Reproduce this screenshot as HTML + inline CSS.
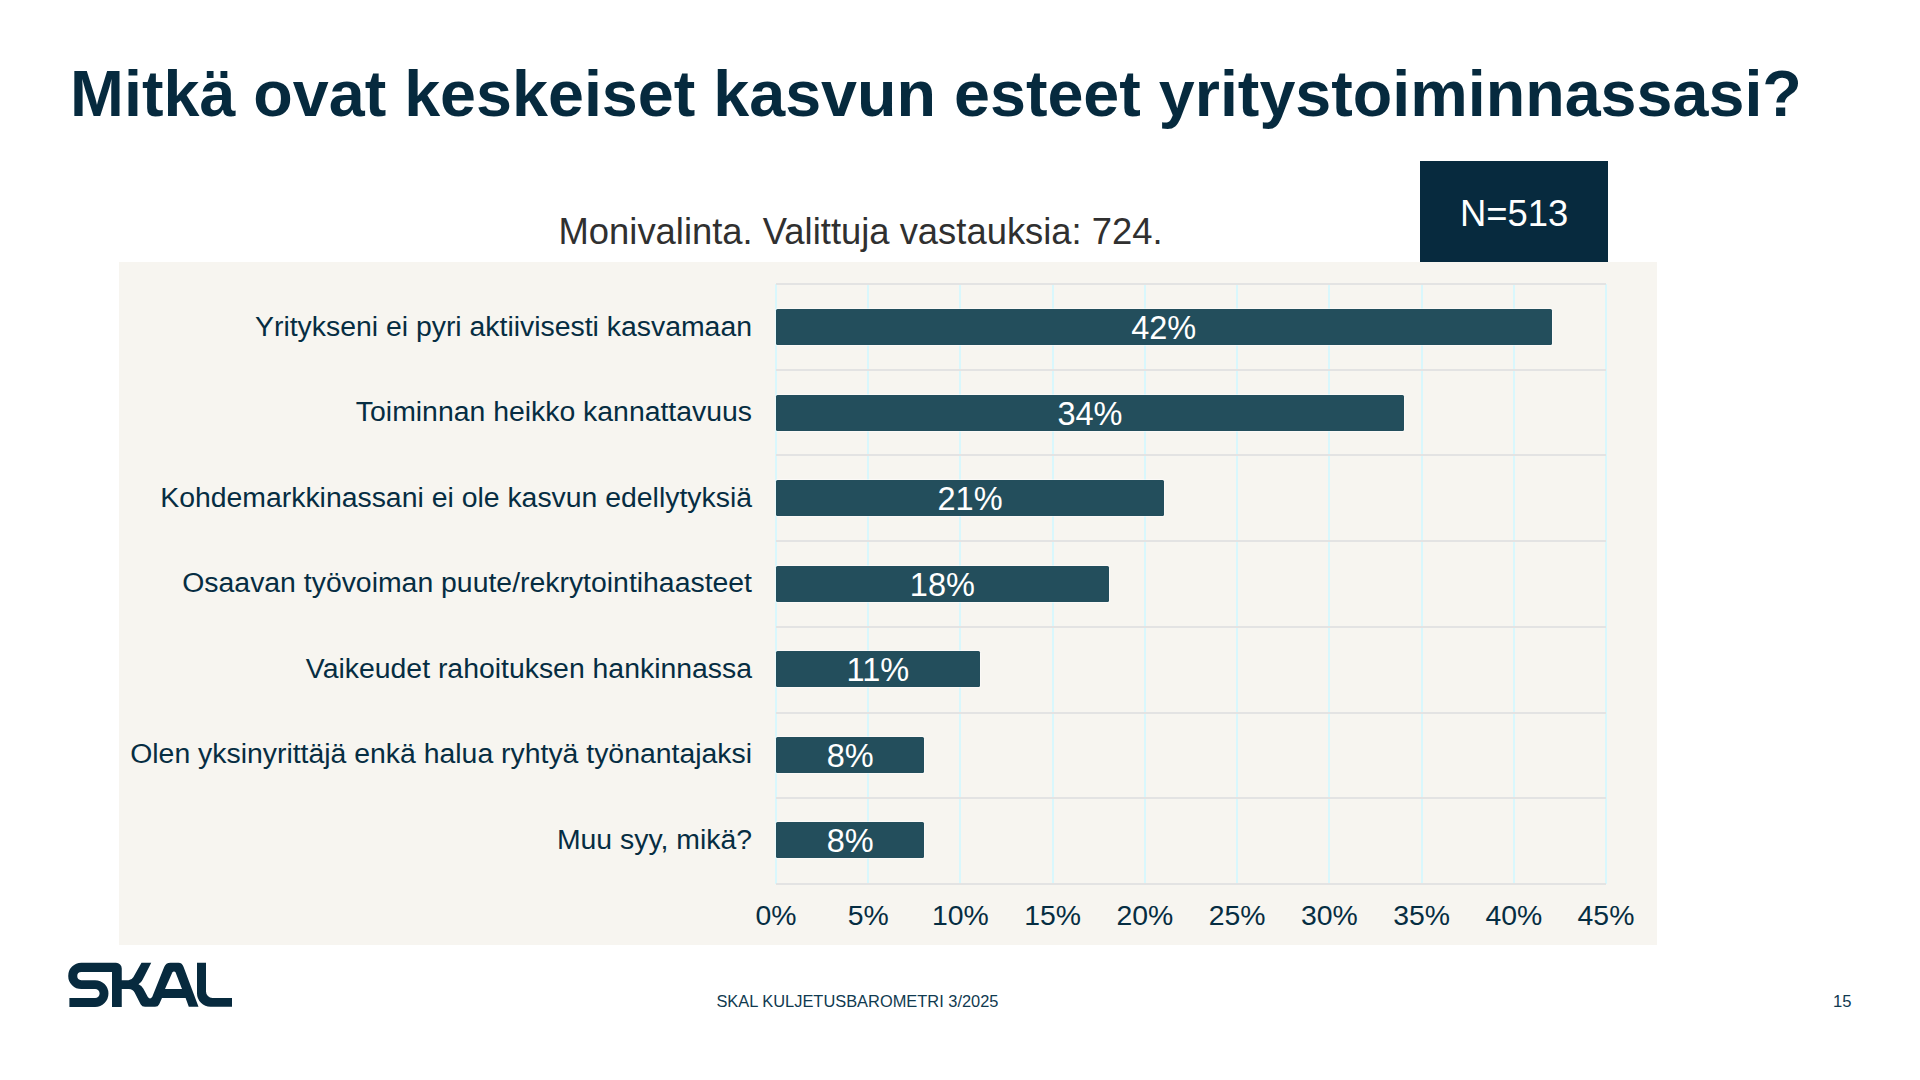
<!DOCTYPE html>
<html>
<head>
<meta charset="utf-8">
<style>
html,body{margin:0;padding:0;}
body{width:1920px;height:1080px;position:relative;overflow:hidden;background:#ffffff;font-family:"Liberation Sans",sans-serif;}
.t{position:absolute;white-space:nowrap;line-height:1;}
#title{left:70.1px;top:62.2px;font-size:64.65px;font-weight:700;color:#062a3e;}
#sub{left:558.5px;top:214.4px;font-size:36.4px;color:#303030;}
#nbox{position:absolute;left:1420px;top:161px;width:188px;height:101px;background:#072a3e;}
#ntxt{left:1420px;width:188px;text-align:center;top:195.6px;font-size:36.4px;color:#ffffff;}
#chart{position:absolute;left:119.2px;top:262px;width:1537.6px;height:683.2px;background:#f7f5f0;}
.vg{position:absolute;top:284px;height:600px;width:2px;background:#d9f7fc;}
.hg{position:absolute;left:776px;width:830px;height:2px;background:#e3e3e3;}
.bar{position:absolute;left:776px;height:36.3px;background:#234e5c;border-radius:1.5px;box-shadow:0 0 0 1px rgba(255,255,255,0.45);}
.dl{position:absolute;left:776px;height:36px;line-height:38.2px;text-align:center;color:#ffffff;font-size:32.5px;white-space:nowrap;}
.cl{position:absolute;right:1168px;font-size:28.4px;color:#062d42;text-align:right;}
.al{position:absolute;width:100px;text-align:center;font-size:28.4px;color:#062d42;top:901px;}
#foot{left:716.4px;top:993.2px;font-size:16.42px;color:#103a50;}
#pg{left:1833px;top:994.3px;font-size:16.6px;color:#103a50;}
</style>
</head>
<body>
<div class="t" id="title">Mitkä ovat keskeiset kasvun esteet yritystoiminnassasi?</div>
<div class="t" id="sub">Monivalinta. Valittuja vastauksia: 724.</div>
<div id="nbox"></div>
<div class="t" id="ntxt">N=513</div>
<div id="chart"></div>

<!-- vertical gridlines -->
<div class="vg" style="left:775px"></div>
<div class="vg" style="left:867.2px"></div>
<div class="vg" style="left:959.4px"></div>
<div class="vg" style="left:1051.7px"></div>
<div class="vg" style="left:1143.9px"></div>
<div class="vg" style="left:1236.1px"></div>
<div class="vg" style="left:1328.3px"></div>
<div class="vg" style="left:1420.6px"></div>
<div class="vg" style="left:1512.8px"></div>
<div class="vg" style="left:1605px"></div>

<!-- horizontal gridlines -->
<div class="hg" style="top:283.0px"></div>
<div class="hg" style="top:368.7px"></div>
<div class="hg" style="top:454.4px"></div>
<div class="hg" style="top:540.1px"></div>
<div class="hg" style="top:625.9px"></div>
<div class="hg" style="top:711.6px"></div>
<div class="hg" style="top:797.3px"></div>
<div class="hg" style="top:883.0px"></div>

<!-- bars -->
<div class="bar" style="top:309.2px;width:775.5px"></div>
<div class="bar" style="top:394.7px;width:627.9px"></div>
<div class="bar" style="top:480.2px;width:388.1px"></div>
<div class="bar" style="top:565.7px;width:332.8px"></div>
<div class="bar" style="top:651.2px;width:203.7px"></div>
<div class="bar" style="top:736.7px;width:148.4px"></div>
<div class="bar" style="top:822.2px;width:148.4px"></div>

<div class="dl" style="top:309.2px;width:775.5px">42%</div>
<div class="dl" style="top:394.7px;width:627.9px">34%</div>
<div class="dl" style="top:480.2px;width:388.1px">21%</div>
<div class="dl" style="top:565.7px;width:332.8px">18%</div>
<div class="dl" style="top:651.2px;width:203.7px">11%</div>
<div class="dl" style="top:736.7px;width:148.4px">8%</div>
<div class="dl" style="top:822.2px;width:148.4px">8%</div>

<!-- category labels -->
<div class="t cl" style="top:311.8px">Yritykseni ei pyri aktiivisesti kasvamaan</div>
<div class="t cl" style="top:397.3px">Toiminnan heikko kannattavuus</div>
<div class="t cl" style="top:482.8px">Kohdemarkkinassani ei ole kasvun edellytyksiä</div>
<div class="t cl" style="top:568.3px">Osaavan työvoiman puute/rekrytointihaasteet</div>
<div class="t cl" style="top:653.8px">Vaikeudet rahoituksen hankinnassa</div>
<div class="t cl" style="top:739.3px">Olen yksinyrittäjä enkä halua ryhtyä työnantajaksi</div>
<div class="t cl" style="top:824.8px">Muu syy, mikä?</div>

<!-- axis labels -->
<div class="t al" style="left:726px">0%</div>
<div class="t al" style="left:818.2px">5%</div>
<div class="t al" style="left:910.4px">10%</div>
<div class="t al" style="left:1002.7px">15%</div>
<div class="t al" style="left:1094.9px">20%</div>
<div class="t al" style="left:1187.1px">25%</div>
<div class="t al" style="left:1279.3px">30%</div>
<div class="t al" style="left:1371.6px">35%</div>
<div class="t al" style="left:1463.8px">40%</div>
<div class="t al" style="left:1556px">45%</div>

<!-- logo -->
<svg style="position:absolute;left:60px;top:955px" width="180" height="60" viewBox="60 955 180 60">
<g fill="#072a3e">
<!-- S + K stem -->
<path d="M81.35 962.75 H116 A5.75 5.75 0 0 1 121.75 968.5 V1006.9 H112 V972 H81.35 A4.1 4.1 0 0 0 81.35 980.2 H95.1 A13.35 13.35 0 0 1 95.1 1006.9 H69.4 V998 H95.1 A4.5 4.5 0 0 0 95.1 989 H81.35 A13.125 13.125 0 0 1 81.35 962.75 Z"/>
<!-- K arms + A -->
<path d="M121 980.25 L128.5 980.25 Q131.6 980.25 133.3 977.3 L141.5 962.75 L151.25 962.75 L142.6 979.8 Q141 983 138.5 984.25 Q141.6 985.6 143.4 988.8 L147.7 996.8 Q150 1000 152.3 996.8 L164.2 967 Q165.8 962.75 170.5 962.75 L178.5 962.75 Q182.2 962.75 183.6 967 L198.5 1006.8 L188.8 1006.8 L185.6 998 L162 998 L159.2 1004.3 Q158.1 1006.8 155 1006.8 L145 1006.8 Q142 1006.8 140.6 1004.2 L134.6 992.6 Q132.8 989 128.9 989 L121 989 Z"/>
<!-- L -->
<path d="M197 962.75 H206 V991.5 A6.5 6.5 0 0 0 212.5 998 H232 V1006.8 H210.5 A13.5 13.5 0 0 1 197 993.3 Z"/>
</g>
<path fill="#ffffff" d="M165 989 L182 989 L175.6 972.6 Q174 970.4 172.3 972.6 Z"/>
</svg>

<div class="t" id="foot">SKAL KULJETUSBAROMETRI 3/2025</div>
<div class="t" id="pg">15</div>
</body>
</html>
